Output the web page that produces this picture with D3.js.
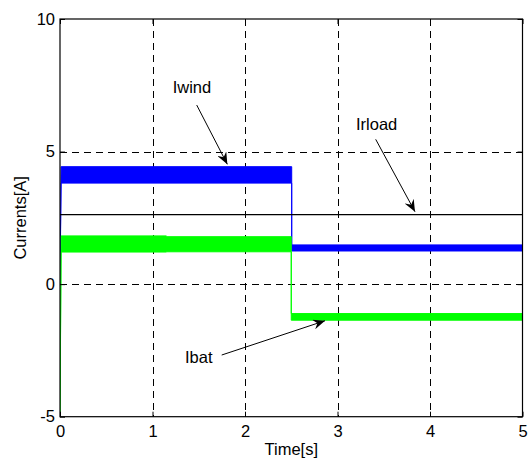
<!DOCTYPE html>
<html>
<head>
<meta charset="utf-8">
<script src="https://cdn.jsdelivr.net/npm/d3@7/dist/d3.min.js"></script>
<style>
  html, body { margin: 0; padding: 0; background: #fff; }
  svg text { font-family: "Liberation Sans", Arial, Helvetica, sans-serif; fill: #000; }
</style>
</head>
<body>
<svg id="chart" width="528" height="465"></svg>
<script>
// Time axis ticks and current axis ticks
const xTicks = [0, 1, 2, 3, 4, 5];
const yTicks = [-5, 0, 5, 10];

// Wind current: ripple envelope (low / high) over time
const windT    = [0, 0.012, 2.505, 2.505, 5];
const windHigh = [0, 4.43, 4.43, 1.48, 1.48];
const windLow  = [0, 3.81, 3.81, 1.25, 1.25];

// Battery current: ripple envelope (low / high) over time
const batT    = [0, 0.012, 1.15, 1.15, 2.5, 2.5, 5];
const batHigh = [-5, 1.82, 1.82, 1.79, 1.79, -1.11, -1.11];
const batLow  = [-5, 1.21, 1.21, 1.22, 1.22, -1.36, -1.36];

// Load current (constant)
const loadT = [0, 5];
const loadI = [2.62, 2.62];

// Annotations: label anchor and arrow tail/head in data units
const labels   = ["Iwind", "Irload", "Ibat"];
const labelT   = [1.218, 3.20, 1.351];
const labelV   = [7.20, 5.83, -2.976];
const arrowT0  = [1.478, 3.413, 1.748];
const arrowV0  = [6.754, 5.462, -2.674];
const arrowT1  = [1.809, 3.838, 2.865];
const arrowV1  = [4.519, 2.731, -1.381];

const svg = d3.select("#chart");
const L = 60, R = 522.5, T = 19, B = 416.7;

const x = d3.scaleLinear().domain([0, 5]).range([L, R]);
const y = d3.scaleLinear().domain([-5, 10]).range([B, T]);

// Plain integer labels with an ASCII hyphen for negatives
const intFmt = v => String(Math.round(v));

svg.append("defs").append("clipPath").attr("id", "plotclip")
  .append("rect").attr("x", L).attr("y", T).attr("width", R - L).attr("height", B - T);

// Dashed grid
const grid = svg.append("g").attr("stroke", "#000").attr("stroke-width", 1)
  .attr("stroke-dasharray", "7,5").attr("fill", "none");
xTicks.slice(1, -1).forEach(t => {
  grid.append("line").attr("x1", Math.round(x(t)) + 0.5).attr("x2", Math.round(x(t)) + 0.5)
    .attr("y1", T).attr("y2", B);
});
yTicks.slice(1, -1).forEach(v => {
  grid.append("line").attr("y1", Math.round(y(v)) + 0.5).attr("y2", Math.round(y(v)) + 0.5)
    .attr("x1", L).attr("x2", R);
});

const plot = svg.append("g").attr("clip-path", "url(#plotclip)");

function band(ts, lo, hi, color) {
  const pts = ts.map((t, i) => ({ t, lo: lo[i], hi: hi[i] }));
  const area = d3.area().x(d => x(d.t)).y0(d => y(d.lo)).y1(d => y(d.hi));
  plot.append("path").datum(pts).attr("d", area)
    .attr("fill", color).attr("stroke", color).attr("stroke-width", 1);
}
band(windT, windLow, windHigh, "#0000ff");
band(batT, batLow, batHigh, "#00ff00");

const loadLine = d3.line().x(d => x(d[0])).y(d => y(d[1]));
plot.append("path").datum(loadT.map((t, i) => [t, loadI[i]]))
  .attr("d", loadLine).attr("fill", "none").attr("stroke", "#000").attr("stroke-width", 1.4);

// Axes box with inward ticks
const axisG = svg.append("g");
const xAxisB = d3.axisBottom(x).tickValues(xTicks).tickFormat(intFmt).tickSizeInner(-5).tickSizeOuter(0);
const xAxisT = d3.axisTop(x).tickValues(xTicks).tickSizeInner(-5).tickSizeOuter(0).tickFormat("");
const yAxisL = d3.axisLeft(y).tickValues(yTicks).tickFormat(intFmt).tickSizeInner(-5).tickSizeOuter(0);
const yAxisR = d3.axisRight(y).tickValues(yTicks).tickSizeInner(-5).tickSizeOuter(0).tickFormat("");

const gb = axisG.append("g").attr("transform", `translate(0,${B})`).call(xAxisB);
const gt = axisG.append("g").attr("transform", `translate(0,${T})`).call(xAxisT);
const gl = axisG.append("g").attr("transform", `translate(${L},0)`).call(yAxisL);
const gr = axisG.append("g").attr("transform", `translate(${R},0)`).call(yAxisR);
[gb, gt, gl, gr].forEach(g => {
  g.selectAll("path.domain").remove();
  g.selectAll("line").attr("stroke", "#000");
  g.selectAll("text").attr("font-size", 16.5).attr("font-family", null);
});
gl.selectAll("text").attr("x", -5);
gb.selectAll("text").attr("dy", "0.75em").attr("y", 8);

axisG.append("rect").attr("x", L).attr("y", T).attr("width", R - L).attr("height", B - T)
  .attr("fill", "none").attr("stroke", "#000").attr("stroke-width", 1.2);

// Axis titles
svg.append("text").attr("x", (L + R) / 2).attr("y", 455).attr("text-anchor", "middle")
  .attr("font-size", 16.5).text("Time[s]");
svg.append("text").attr("transform", `translate(26,${(T + B) / 2}) rotate(-90)`)
  .attr("text-anchor", "middle").attr("font-size", 16.5).text("Currents[A]");

// Arrow marker
svg.select("defs").append("marker").attr("id", "head")
  .attr("viewBox", "0 0 12 10").attr("refX", 12).attr("refY", 5)
  .attr("markerWidth", 12).attr("markerHeight", 10).attr("markerUnits", "userSpaceOnUse")
  .attr("orient", "auto")
  .append("path").attr("d", "M0,0 L12,5 L0,10 L4,5 Z").attr("fill", "#000");

labels.forEach((name, i) => {
  svg.append("text").attr("x", x(labelT[i])).attr("y", y(labelV[i]))
    .attr("font-size", 16.5).text(name);
  svg.append("line")
    .attr("x1", x(arrowT0[i])).attr("y1", y(arrowV0[i]))
    .attr("x2", x(arrowT1[i])).attr("y2", y(arrowV1[i]))
    .attr("stroke", "#000").attr("stroke-width", 1).attr("marker-end", "url(#head)");
});
</script>
</body>
</html>
